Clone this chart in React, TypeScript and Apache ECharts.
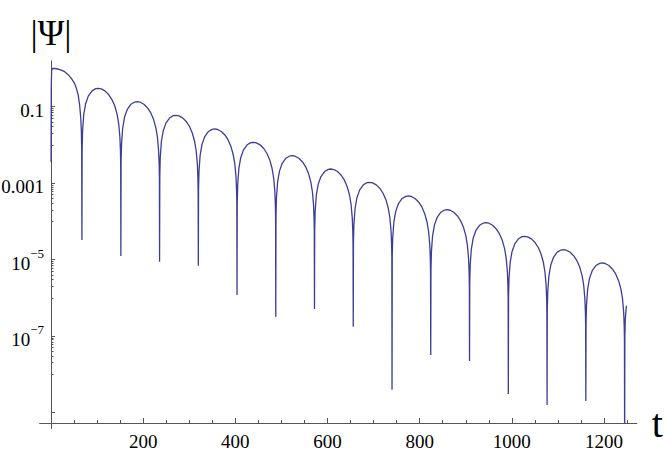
import React, { useEffect, useRef } from "react";
import * as echarts from "echarts";

// time values t, lobe by lobe, dips included
const tValues = [
  0, 0.4, 1.2, 2.5, 8, 15, 22, 29.5, 37, 44, 50, 55, 59, 62, 64.5, 65.8, 66.5,
  67,
  67.5, 68.5, 71, 75, 81, 89, 97, 102.4, 109, 117, 125, 132, 138.4, 143.4, 146.9, 149.4, 150.6, 151.1,
  151.5,
  152, 153, 155.5, 159.5, 165.5, 173.5, 181.5, 186.9, 193.5, 201.5, 209.5, 216.5, 222.4, 227.4, 230.9, 233.4, 234.6, 235.1,
  235.5,
  236, 237, 239.5, 243.5, 249.5, 257.5, 265.5, 270.9, 277.5, 285.5, 293.5, 300.5, 306.5, 311.5, 315, 317.5, 318.7, 319.2,
  319.6,
  320.1, 321.1, 323.6, 327.6, 333.6, 341.6, 349.6, 355, 361.6, 369.6, 377.6, 384.6, 390.5, 395.5, 399, 401.5, 402.7, 403.2,
  403.6,
  404.1, 405.1, 407.6, 411.6, 417.6, 425.6, 433.6, 439, 445.6, 453.6, 461.6, 468.6, 474.6, 479.6, 483.1, 485.6, 486.8, 487.3,
  487.7,
  488.2, 489.2, 491.7, 495.7, 501.7, 509.7, 517.7, 523.1, 529.7, 537.7, 545.7, 552.7, 558.6, 563.6, 567.1, 569.6, 570.8, 571.3,
  571.7,
  572.2, 573.2, 575.7, 579.7, 585.7, 593.7, 601.7, 607.1, 613.7, 621.7, 629.7, 636.7, 642.7, 647.7, 651.2, 653.7, 654.9, 655.4,
  655.8,
  656.3, 657.3, 659.8, 663.8, 669.8, 677.8, 685.8, 691.2, 697.8, 705.8, 713.8, 720.8, 726.9, 731.9, 735.4, 737.9, 739.1, 739.6,
  740,
  740.5, 741.5, 744, 748, 754, 762, 770, 775.4, 782, 790, 798, 805, 810.9, 815.9, 819.4, 821.9, 823.1, 823.6,
  824,
  824.5, 825.5, 828, 832, 838, 846, 854, 859.4, 866, 874, 882, 889, 895.1, 900.1, 903.6, 906.1, 907.3, 907.8,
  908.2,
  908.7, 909.7, 912.2, 916.2, 922.2, 930.2, 938.2, 943.6, 950.2, 958.2, 966.2, 973.2, 979.3, 984.3, 987.8, 990.3, 991.5, 992,
  992.4,
  992.9, 993.9, 996.4, 1000.4, 1006.4, 1014.4, 1022.4, 1027.8, 1034.4, 1042.4, 1050.4, 1057.4, 1063.4, 1068.4, 1071.9, 1074.4, 1075.6, 1076.1,
  1076.5,
  1077, 1078, 1080.5, 1084.5, 1090.5, 1098.5, 1106.5, 1111.9, 1118.5, 1126.5, 1134.5, 1141.5, 1147.5, 1152.5, 1156, 1158.5, 1159.7, 1160.2,
  1160.6,
  1161.1, 1162.1, 1164.6, 1168.6, 1174.6, 1182.6, 1190.6, 1196, 1202.6, 1210.6, 1218.6, 1225.6, 1231.7, 1236.7, 1240.2, 1242.7, 1243.9, 1244.4,
  1244.8,
  1245.3, 1246.3, 1248.7,
];

// |Psi| values, same order as tValues
const psiValues = [
  0.0036, 0.3, 0.85, 1.01, 1.0, 0.969, 0.91, 0.824, 0.69, 0.553, 0.427, 0.303, 0.2, 0.111, 0.05, 0.0222, 0.0075,
  3.25e-5,
  0.008166, 0.02424, 0.06293, 0.1198, 0.1917, 0.2604, 0.2964, 0.3029, 0.2933, 0.2597, 0.2081, 0.1541, 0.1045, 0.06328, 0.03523, 0.01593, 0.006923, 0.003224,
  1.24e-5,
  0.003647, 0.01083, 0.0281, 0.0535, 0.08561, 0.1163, 0.1324, 0.1353, 0.131, 0.116, 0.09293, 0.06883, 0.04668, 0.02826, 0.01573, 0.007114, 0.003092, 0.00144,
  8.81e-6,
  0.001607, 0.004771, 0.01238, 0.02357, 0.03772, 0.05124, 0.05832, 0.05961, 0.05772, 0.05112, 0.04095, 0.03033, 0.02057, 0.01245, 0.006933, 0.003135, 0.001362, 0.0006345,
  6.92e-6,
  7.046e-4, 2.092e-3, 5.43e-3, 1.034e-2, 1.654e-2, 2.247e-2, 2.557e-2, 2.614e-2, 2.531e-2, 2.241e-2, 1.795e-2, 1.33e-2, 9.018e-3, 5.46e-3, 3.04e-3, 1.375e-3, 5.973e-4, 2.782e-4,
  1.18e-6,
  3.162e-4, 9.388e-4, 2.437e-3, 4.639e-3, 7.423e-3, 1.008e-2, 1.148e-2, 1.173e-2, 1.136e-2, 1.006e-2, 8.057e-3, 5.968e-3, 4.047e-3, 2.45e-3, 1.364e-3, 6.169e-4, 2.681e-4, 1.249e-4,
  3.21e-7,
  1.409e-4, 4.183e-4, 1.086e-3, 2.067e-3, 3.308e-3, 4.493e-3, 5.114e-3, 5.227e-3, 5.062e-3, 4.482e-3, 3.591e-3, 2.66e-3, 1.804e-3, 1.092e-3, 6.08e-4, 2.749e-4, 1.195e-4, 5.564e-5,
  5.09e-7,
  6.324e-5, 1.878e-4, 4.874e-4, 9.277e-4, 1.485e-3, 2.016e-3, 2.295e-3, 2.346e-3, 2.272e-3, 2.012e-3, 1.611e-3, 1.194e-3, 8.095e-4, 4.901e-4, 2.729e-4, 1.234e-4, 5.362e-5, 2.497e-5,
  1.75e-7,
  2.839e-5, 8.428e-5, 2.188e-4, 4.165e-4, 6.664e-4, 9.052e-4, 1.03e-3, 1.053e-3, 1.02e-3, 9.03e-4, 7.234e-4, 5.358e-4, 3.634e-4, 2.2e-4, 1.225e-4, 5.538e-5, 2.407e-5, 1.121e-5,
  3.9e-9,
  1.245e-5, 3.695e-5, 9.591e-5, 1.826e-4, 2.921e-4, 3.968e-4, 4.517e-4, 4.617e-4, 4.47e-4, 3.959e-4, 3.171e-4, 2.349e-4, 1.593e-4, 9.644e-5, 5.369e-5, 2.428e-5, 1.055e-5, 4.914e-6,
  3.19e-8,
  5.444e-6, 1.616e-5, 4.195e-5, 7.986e-5, 1.278e-4, 1.736e-4, 1.976e-4, 2.019e-4, 1.955e-4, 1.732e-4, 1.387e-4, 1.027e-4, 6.968e-5, 4.219e-5, 2.349e-5, 1.062e-5, 4.615e-6, 2.149e-6,
  2.22e-8,
  2.489e-6, 7.388e-6, 1.918e-5, 3.651e-5, 5.842e-5, 7.935e-5, 9.032e-5, 9.232e-5, 8.939e-5, 7.916e-5, 6.342e-5, 4.697e-5, 3.186e-5, 1.929e-5, 1.074e-5, 4.855e-6, 2.11e-6, 9.826e-7,
  3.04e-9,
  1.097e-6, 3.255e-6, 8.451e-6, 1.609e-5, 2.574e-5, 3.496e-5, 3.98e-5, 4.068e-5, 3.939e-5, 3.488e-5, 2.794e-5, 2.07e-5, 1.404e-5, 8.498e-6, 4.731e-6, 2.139e-6, 9.297e-7, 4.33e-7,
  1.57e-9,
  4.898e-7, 1.454e-6, 3.774e-6, 7.185e-6, 1.15e-5, 1.562e-5, 1.778e-5, 1.817e-5, 1.759e-5, 1.558e-5, 1.248e-5, 9.244e-6, 6.269e-6, 3.796e-6, 2.113e-6, 9.555e-7, 4.152e-7, 1.934e-7,
  2.0e-9,
  2.198e-7, 6.525e-7, 1.694e-6, 3.224e-6, 5.159e-6, 7.008e-6, 7.977e-6, 8.153e-6, 7.895e-6, 6.991e-6, 5.6e-6, 4.148e-6, 2.813e-6, 1.703e-6, 9.483e-7, 4.288e-7, 1.863e-7, 8.678e-8,
  1e-10,
  9.773e-8, 2.901e-7, 6.2e-7,
];

const xMajorTicks = [200, 400, 600, 800, 1000, 1200];
const xMinorTicks = [50, 100, 150, 250, 300, 350, 450, 500, 550, 650, 700, 750, 850, 900, 950, 1050, 1100, 1150, 1250];
const yLabelTicks = [0.1, 0.001, 1e-5, 1e-7];
const yLabelTexts = ["{b|0.1}", "{b|0.001}", "{b|10}{s|\u22125}", "{b|10}{s|\u22127}"];
const yMajorTicks = [0.1, 0.001, 1e-5, 1e-7, 1e-9];
const yMinorTicks = [
  0.09, 0.08, 0.07, 0.06, 0.05, 0.04, 0.03, 0.02, 0.01,
  9e-4, 8e-4, 7e-4, 6e-4, 5e-4, 4e-4, 3e-4, 2e-4, 1e-4,
  9e-6, 8e-6, 7e-6, 6e-6, 5e-6, 4e-6, 3e-6, 2e-6, 1e-6,
  9e-8, 8e-8, 7e-8, 6e-8, 5e-8, 4e-8, 3e-8, 2e-8, 1e-8,
];

const X_MIN = -24;
const X_MAX = 1271;
const Y_MIN = 5.3e-10;
const Y_MAX = 1.57;

const SERIF = "'Liberation Serif', 'Times New Roman', serif";
const AXIS_COLOR = "#555555";
const LINE_COLOR = "#3d3d99";

export default function App() {
  const ref = useRef<HTMLDivElement>(null);

  useEffect(() => {
    if (!ref.current) return;
    const chart = echarts.init(ref.current, undefined, { renderer: "svg" });
    const data = tValues.map((t, i) => [t, psiValues[i]]);

    const labelFormatter = (v: number) => {
      const e = Math.round(Math.log10(v));
      const i = yLabelTicks.findIndex((x) => Math.round(Math.log10(x)) === e);
      return i >= 0 ? yLabelTexts[i] : "";
    };

    const baseX = {
      type: "value" as const,
      min: X_MIN,
      max: X_MAX,
      position: "bottom" as const,
      splitLine: { show: false },
      axisLine: { show: true, onZero: false, lineStyle: { color: AXIS_COLOR, width: 1 } },
    };
    const baseY = {
      type: "log" as const,
      min: Y_MIN,
      max: Y_MAX,
      logBase: 10,
      position: "left" as const,
      splitLine: { show: false },
      axisLine: { show: true, onZero: true, lineStyle: { color: AXIS_COLOR, width: 1 } },
    };

    chart.setOption({
      animation: false,
      backgroundColor: "#ffffff",
      grid: {
        left: 40,
        right: 30.3,
        top: 61,
        bottom: 30,
        containLabel: false,
        outerBoundsMode: "none",
      },
      xAxis: [
        {
          ...baseX,
          axisTick: { customValues: xMajorTicks, inside: true, length: 5, lineStyle: { color: AXIS_COLOR } },
          axisLabel: {
            customValues: xMajorTicks,
            formatter: (v: number) => String(v),
            color: "#000",
            fontFamily: SERIF,
            fontSize: 19,
            margin: 9,
          },
          name: "t",
          nameLocation: "end",
          nameGap: 15,
          nameTextStyle: { fontFamily: SERIF, fontSize: 40, color: "#000", padding: [6, 0, 0, 0] },
        },
        {
          ...baseX,
          axisTick: { customValues: xMinorTicks, inside: true, length: 3, lineStyle: { color: AXIS_COLOR } },
          axisLabel: { show: false },
        },
        {
          ...baseX,
          axisTick: { customValues: [0], inside: false, length: 6, lineStyle: { color: AXIS_COLOR } },
          axisLabel: { show: false },
        },
      ],
      yAxis: [
        {
          ...baseY,
          axisTick: { customValues: yMajorTicks, inside: true, length: 4, lineStyle: { color: AXIS_COLOR } },
          axisLabel: {
            customValues: yLabelTicks,
            formatter: labelFormatter,
            color: "#000",
            margin: -4,
            rich: {
              b: { fontFamily: SERIF, fontSize: 19, color: "#000", lineHeight: 26, verticalAlign: "bottom" },
              s: { fontFamily: SERIF, fontSize: 13, color: "#000", lineHeight: 26, verticalAlign: "top" },
            },
          },
          name: "|\u03A8|",
          nameLocation: "end",
          nameGap: 10,
          nameTextStyle: { fontFamily: SERIF, fontSize: 36, color: "#000" },
        },
        {
          ...baseY,
          axisTick: { customValues: yMinorTicks, inside: true, length: 2.5, lineStyle: { color: AXIS_COLOR } },
          axisLabel: { show: false },
        },
      ],
      series: [
        {
          type: "line",
          xAxisIndex: 0,
          yAxisIndex: 0,
          data,
          showSymbol: false,
          symbol: "none",
          clip: true,
          silent: true,
          lineStyle: { color: LINE_COLOR, width: 1.3 },
        },
      ],
    });

    return () => chart.dispose();
  }, []);

  return (
    <div
      ref={ref}
      style={{ position: "absolute", left: 0, top: 0, width: 667, height: 453 }}
    />
  );
}
